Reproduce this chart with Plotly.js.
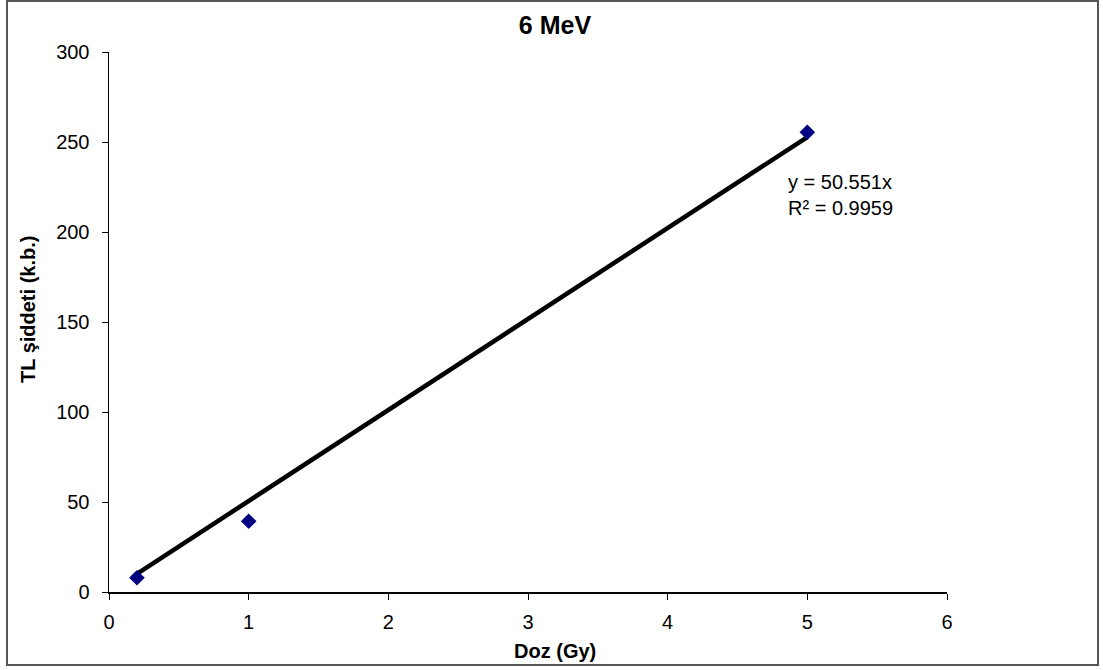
<!DOCTYPE html>
<html>
<head>
<meta charset="utf-8">
<script src="https://cdn.plot.ly/plotly-3.0.1.min.js"></script>
<style>html,body{margin:0;padding:0;background:#fff;}#chart{width:1103px;height:670px;}</style>
</head>
<body>
<div id="chart"></div>
<script>
var doseGy = [0.2, 1, 5];
var tlIntensity = [7.9, 39.3, 255.4];
var slope = 50.551;
var rSquared = 0.9959;
var xTicks = [0, 1, 2, 3, 4, 5, 6];
var yTicks = [0, 50, 100, 150, 200, 250, 300];

var trendX = [doseGy[0], doseGy[doseGy.length - 1]];
var trendY = trendX.map(function (x) { return slope * x; });

var font = "Liberation Sans, Arial, sans-serif";
var W = 838, H = 540, L = 109, T = 52;
function px(xPix) { return (xPix - L) / W; }
function py(yPix) { return (T + H - yPix) / H; }

var data = [
  {
    x: trendX, y: trendY, type: "scatter", mode: "lines",
    line: {color: "#000000", width: 4.5}, hoverinfo: "skip", showlegend: false
  },
  {
    x: doseGy, y: tlIntensity, type: "scatter", mode: "markers",
    marker: {symbol: "diamond", color: "#000080", size: 12}, showlegend: false
  }
];

var layout = {
  width: 1103, height: 670,
  paper_bgcolor: "#ffffff", plot_bgcolor: "#ffffff",
  margin: {l: 109, r: 156, t: 52, b: 78},
  showlegend: false,
  font: {family: font, color: "#000000", size: 20},
  title: {text: "<b>6 MeV</b>", font: {family: font, size: 25, color: "#000"},
          xref: "container", x: 555 / 1103, xanchor: "center",
          yref: "container", y: 1 - 25 / 670, yanchor: "middle"},
  xaxis: {
    range: [0, 6], tickvals: xTicks, ticktext: xTicks.map(String),
    showgrid: false, zeroline: false, showline: true, linecolor: "#000", linewidth: 1.5,
    ticks: "outside", ticklen: 6, tickcolor: "#000", tickwidth: 1,
    ticklabelstandoff: 5,
    tickfont: {family: font, size: 20, color: "#000"},
    automargin: false
  },
  yaxis: {
    range: [0, 300], tickvals: yTicks, ticktext: yTicks.map(String),
    showgrid: false, zeroline: false, showline: true, linecolor: "#000", linewidth: 1.5,
    ticks: "outside", ticklen: 6, tickcolor: "#000", tickwidth: 1,
    ticklabelstandoff: 8,
    tickfont: {family: font, size: 20, color: "#000"},
    automargin: false
  },
  annotations: [
    {
      xref: "paper", yref: "paper",
      x: px(786), y: py(195),
      xanchor: "left", yanchor: "middle", align: "left", showarrow: false,
      text: "y = " + slope + "x<br>R² = " + rSquared,
      font: {family: font, size: 20, color: "#000"}
    },
    {
      xref: "paper", yref: "paper",
      x: px(555), y: py(651), xanchor: "center", yanchor: "middle", showarrow: false,
      text: "<b>Doz (Gy)</b>", font: {family: font, size: 20, color: "#000"}
    },
    {
      xref: "paper", yref: "paper",
      x: px(28), y: py(310), xanchor: "center", yanchor: "middle", showarrow: false,
      textangle: -90,
      text: "<b>TL şiddeti (k.b.)</b>", font: {family: font, size: 20, color: "#000"}
    }
  ],
  shapes: [
    {
      type: "rect", xref: "paper", yref: "paper",
      x0: px(7), x1: px(1098), y0: py(665), y1: py(1),
      line: {color: "#555555", width: 2}, fillcolor: "rgba(0,0,0,0)"
    }
  ]
};

Plotly.newPlot("chart", data, layout, {displayModeBar: false, staticPlot: true});
</script>
</body>
</html>
